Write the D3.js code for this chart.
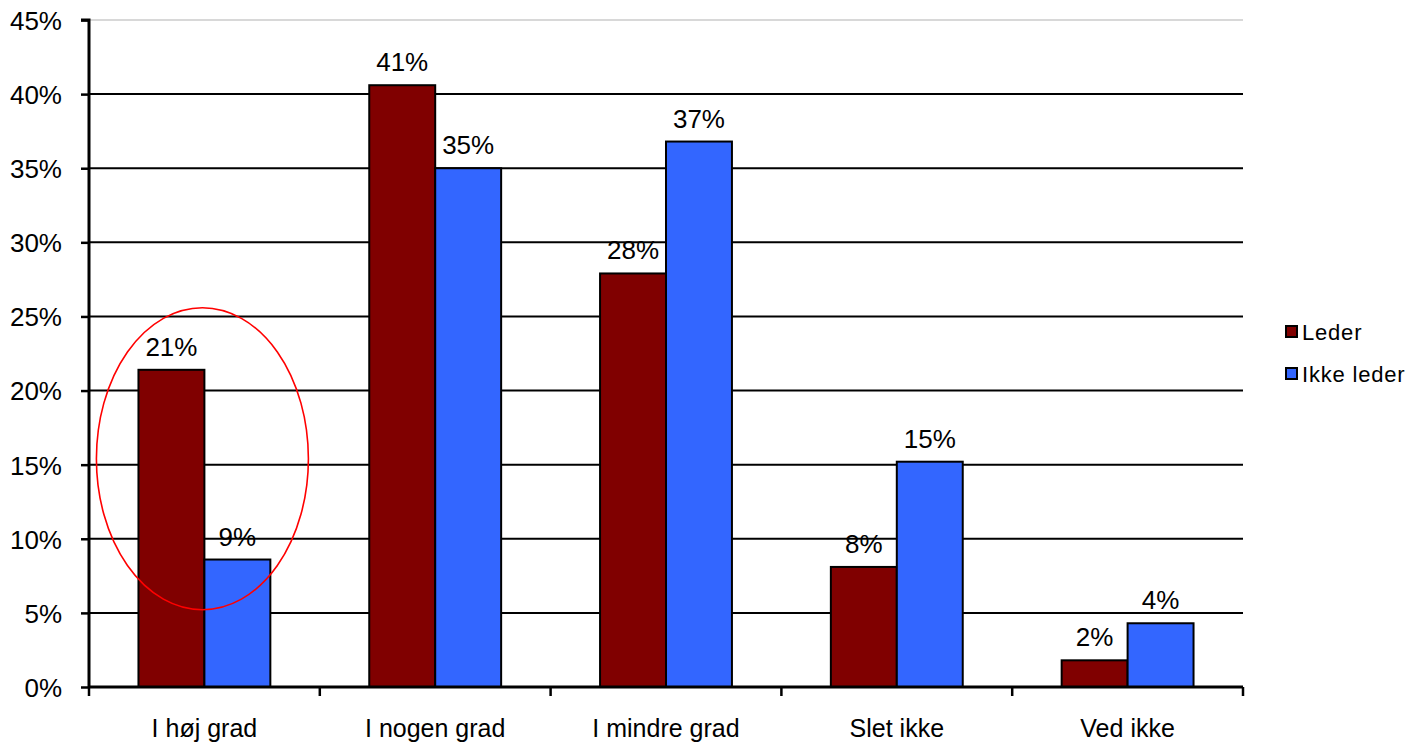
<!DOCTYPE html>
<html><head><meta charset="utf-8">
<script src="https://cdn.jsdelivr.net/npm/d3@7"></script>
<style>body{margin:0;background:#fff}svg{display:block;font-family:"Liberation Sans",Arial,sans-serif}</style>
</head><body>
<svg id="c" width="1412" height="743"></svg>
<script>
const categories = ["I høj grad","I nogen grad","I mindre grad","Slet ikke","Ved ikke"];
const series = ["Leder","Ikke leder"];
const leder = [21.4, 40.6, 27.9, 8.1, 1.8];
const ikkeLeder = [8.6, 35.0, 36.8, 15.2, 4.3];
const yTicks = [0,5,10,15,20,25,30,35,40,45];
const colors = ["#800000","#3366FF"];

const svg = d3.select("#c");
const L=89, R=1243, T=20, B=687;
const x = d3.scaleBand().domain(categories).range([L,R]).paddingInner(0).paddingOuter(0);
const x1 = d3.scaleBand().domain(series).range([0,x.bandwidth()]).paddingInner(0).paddingOuter(0.75);
const y = d3.scaleLinear().domain([0,45]).range([B,T]);

// gridlines
svg.append("g").selectAll("line").data(yTicks.filter(d=>d>0)).join("line")
  .attr("x1",L).attr("x2",R).attr("y1",d=>y(d)).attr("y2",d=>y(d))
  .attr("stroke",d=>d===45?"#d8d8d8":"#000").attr("stroke-width",2);

// bars
const data = categories.map((c,i)=>({c, vals:[leder[i], ikkeLeder[i]]}));
const g = svg.append("g");
data.forEach(d=>{
  d.vals.forEach((v,j)=>{
    const bx = x(d.c)+x1(series[j]);
    g.append("rect").attr("x",bx).attr("y",y(v)).attr("width",x1.bandwidth()).attr("height",y(0)-y(v))
      .attr("fill",colors[j]).attr("stroke","#000").attr("stroke-width",2);
    g.append("text").attr("x",bx+x1.bandwidth()/2).attr("y",y(v)-14)
      .attr("text-anchor","middle").style("font-size","26px").text(Math.round(v)+"%");
  });
});

// y axis
const ya = d3.axisLeft(y).tickValues(yTicks).tickFormat(d=>d+"%").tickSize(8).tickPadding(19);
const yg = svg.append("g").attr("transform",`translate(${L},0)`).call(ya);
yg.attr("font-size",null).attr("font-family",null);
yg.select(".domain").attr("stroke-width",3).attr("d",`M-8,${T}H0V${B}`);
yg.selectAll(".tick line").attr("stroke-width",2.5);
yg.selectAll(".tick text").style("font-size","26px").attr("fill","#000").attr("dy","0.36em");

// x axis
const xb = d3.scaleLinear().domain([0,categories.length]).range([L,R]);
svg.append("line").attr("x1",L).attr("x2",R).attr("y1",B).attr("y2",B).attr("stroke","#000").attr("stroke-width",3);
svg.append("g").selectAll("line").data(d3.range(categories.length+1)).join("line")
  .attr("x1",d=>xb(d)).attr("x2",d=>xb(d)).attr("y1",B).attr("y2",B+9).attr("stroke","#000").attr("stroke-width",2.5);
svg.append("g").selectAll("text").data(categories).join("text")
  .attr("x",d=>x(d)+x.bandwidth()/2).attr("y",737).attr("text-anchor","middle").style("font-size","25px").text(d=>d);

// annotation ellipse
svg.append("ellipse").attr("cx",x(categories[0])+x.bandwidth()/2-2).attr("cy",y(15.4))
  .attr("rx",106).attr("ry",151).attr("fill","none").attr("stroke","#ff0000").attr("stroke-width",1.6);

// legend
const lg = svg.append("g");
series.forEach((s,i)=>{
  const ly = 331 + i*42;
  lg.append("rect").attr("x",1286).attr("y",ly-5).attr("width",11).attr("height",11)
    .attr("fill",colors[i]).attr("stroke","#000").attr("stroke-width",2);
  lg.append("text").attr("x",1302).attr("y",ly+9).style("font-size","22px").attr("letter-spacing",0.8).text(s);
});
</script>
</body></html>
